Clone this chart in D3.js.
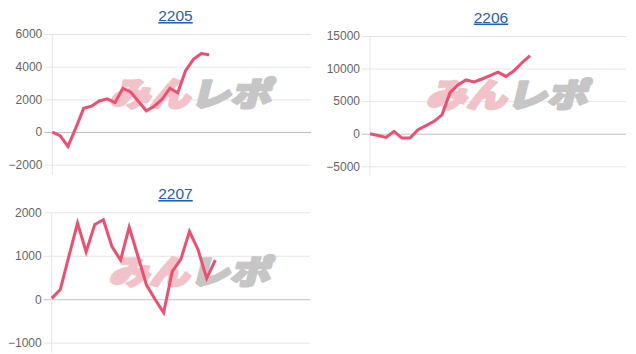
<!DOCTYPE html>
<html>
<head>
<meta charset="utf-8">
<script src="https://cdn.jsdelivr.net/npm/d3@7"></script>
<style>
body { margin: 0; background: #fff; }
svg { display: block; font-family: "Liberation Sans", Arial, sans-serif; }
</style>
</head>
<body>
<script>
// month titles
var titles = ['2205', '2206', '2207'];

// daily running totals
var vals2205 = [0, -225, -880, 250, 1450, 1580, 1900, 2030, 1800, 2680, 2450, 1870, 1300, 1580, 2000, 2680, 2400, 3750, 4450, 4800, 4730];
var vals2206 = [0, -280, -570, 360, -670, -670, 620, 1240, 1900, 2900, 6300, 7500, 8250, 7950, 8400, 8900, 9450, 8800, 9650, 10900, 12000];
var vals2207 = [20, 225, 990, 1750, 1090, 1720, 1830, 1210, 900, 1660, 1000, 330, 0, -310, 640, 920, 1560, 1140, 480, 900];

// y axis ticks for each month
var ticks2205 = [-2000, 0, 2000, 4000, 6000];
var ticks2206 = [-5000, 0, 5000, 10000, 15000];
var ticks2207 = [-1000, 0, 1000, 2000];

// how many x slots each axis has
var slots = [34, 33, 31];

var width = 636, height = 354;
var svg = d3.select('body').append('svg').attr('width', width).attr('height', height);

// plot areas (layout only)
var panels = [
  {title: titles[0], values: vals2205, ticks: ticks2205, slots: slots[0], left: 52.3, right: 311, top: 34, bottom: 164.7, titleY: 21},
  {title: titles[1], values: vals2206, ticks: ticks2206, slots: slots[1], left: 370, right: 626, top: 36, bottom: 166.3, titleY: 22.5},
  {title: titles[2], values: vals2207, ticks: ticks2207, slots: slots[2], left: 51.7, right: 310, top: 212.3, bottom: 342.7, titleY: 199}
];

var line_color = '#f24d6e';

// heavy slanted logo text
function logo_text(sel, txt, dx, anchor, color) {
  sel.append('text')
    .attr('transform', 'translate(' + dx + ',1) skewX(-14) scale(1.22,1)')
    .attr('text-anchor', anchor).attr('dominant-baseline', 'central')
    .style('font-family', '"Noto Sans CJK JP"').style('font-weight', 900).style('font-size', '33px')
    .attr('fill', color).attr('stroke', color).attr('stroke-width', 2.6).attr('stroke-linejoin', 'round')
    .text(txt);
}

function draw_panel(p, k) {
  var x_scale = d3.scaleLinear().domain([0, p.slots - 1]).range([p.left, p.right]);
  var y_scale = d3.scaleLinear().domain(d3.extent(p.ticks)).range([p.bottom, p.top]);
  var w = p.right - p.left;
  var g = svg.append('g').attr('class', 'panel' + k);

  // y axis with full width gridlines
  var axis = g.append('g').attr('transform', 'translate(' + p.left + ',0)')
    .call(d3.axisLeft(y_scale).tickValues(p.ticks).tickSize(-w).tickPadding(10).tickFormat(d3.format('d')));
  axis.select('.domain').remove();
  axis.selectAll('.tick line')
    .attr('x1', -8)
    .attr('stroke', function(d) { return d == 0 ? '#c2c2c2' : '#e6e6e6'; });
  axis.selectAll('.tick text')
    .attr('fill', '#666')
    .style('font-size', '12px')
    .style('font-family', '"Liberation Sans", Arial, sans-serif');

  // left edge line, runs a bit below the plot
  g.append('line')
    .attr('x1', p.left).attr('x2', p.left)
    .attr('y1', p.top).attr('y2', p.bottom + 10)
    .attr('stroke', '#e6e6e6');

  // watermark logo
  var cx = (p.left + p.right) / 2 + 11, cy = (p.top + p.bottom) / 2 - 9;
  var wm = g.append('g').attr('transform', 'translate(' + cx + ',' + cy + ')');
  logo_text(wm, 'みん', 1, 'end', '#f1c3c9');
  logo_text(wm, 'レポ', 1, 'start', '#c6c6c6');

  // the series
  var line = d3.line()
    .x(function(d, i) { return x_scale(i); })
    .y(function(d) { return y_scale(d); });
  g.append('path')
    .datum(p.values)
    .attr('d', line)
    .attr('fill', 'none')
    .attr('stroke', line_color)
    .attr('stroke-width', 3)
    .attr('stroke-linejoin', 'miter')
    .attr('stroke-miterlimit', 4);

  // title, link style
  g.append('text')
    .attr('x', k == 1 ? 491 : 175.5).attr('y', p.titleY)
    .attr('text-anchor', 'middle')
    .style('font-size', '15.5px')
    .style('text-decoration', 'underline')
    .attr('fill', '#2460b8')
    .text(p.title);
}

panels.forEach(draw_panel);
</script>
</body>
</html>
